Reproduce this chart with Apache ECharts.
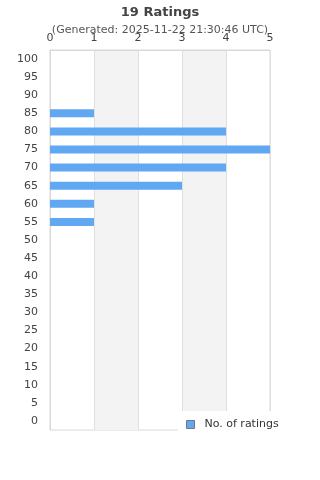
<!DOCTYPE html>
<html>
<head>
<meta charset="utf-8">
<script src="https://cdn.jsdelivr.net/npm/echarts@6/dist/echarts.min.js"></script>
<style>
  html, body { margin: 0; padding: 0; background: #fff; }
  #chart { width: 320px; height: 480px; }
</style>
</head>
<body>
<div id="chart"></div>
<script>
// rating buckets, bottom to top
const categories = ['0', '5', '10', '15', '20', '25', '30', '35', '40', '45', '50',
  '55', '60', '65', '70', '75', '80', '85', '90', '95', '100'];
const counts = [0, 0, 0, 0, 0, 0, 0, 0, 0, 0, 0, 1, 1, 3, 4, 5, 4, 1, 0, 0, 0];
const xTicks = [0, 1, 2, 3, 4, 5];

const myChart = echarts.init(document.getElementById('chart'));
const option = {
  animation: false,
  title: {
    text: '19 Ratings',
    subtext: '(Generated: 2025-11-22 21:30:46 UTC)',
    left: 'center',
    top: 1,
    itemGap: 6,
    textStyle: { fontFamily: 'DejaVu Sans', fontSize: 13, fontWeight: 'bold', color: '#444' },
    subtextStyle: { fontFamily: 'DejaVu Sans', fontSize: 11, color: '#555' },
  },
  grid: {
    left: 50,
    top: 50,
    width: 220,
    height: 380,
    show: true,
    borderColor: '#d9d9d9',
    borderWidth: 1,
    containLabel: false,
  },
  legend: {
    data: ['No. of ratings'],
    left: 178,
    top: 411,
    padding: [8, 8, 8, 8],
    backgroundColor: '#fff',
    itemWidth: 8,
    itemHeight: 8,
    icon: 'rect',
    itemStyle: { borderColor: '#777', borderWidth: 1 },
    textStyle: { fontFamily: 'DejaVu Sans', fontSize: 11, color: '#333', padding: [0, 0, 0, 5] },
  },
  xAxis: {
    type: 'value',
    position: 'top',
    min: xTicks[0],
    max: xTicks[xTicks.length - 1],
    interval: 1,
    axisLine: { show: true, lineStyle: { color: '#d9d9d9' } },
    axisTick: { show: false },
    axisLabel: { margin: 6, fontFamily: 'DejaVu Sans', fontSize: 11, color: '#444' },
    splitLine: { show: true, lineStyle: { color: '#e0e0e0' } },
    splitArea: { show: true, areaStyle: { color: ['rgba(255,255,255,0)', '#f3f3f3'] } },
  },
  yAxis: {
    type: 'category',
    data: categories,
    axisLine: { show: true, lineStyle: { color: '#d9d9d9' } },
    axisTick: { show: false },
    axisLabel: { margin: 12, fontFamily: 'DejaVu Sans', fontSize: 11, color: '#444' },
    splitLine: { show: false },
  },
  series: [{
    name: 'No. of ratings',
    type: 'bar',
    data: counts,
    barWidth: 8,
    itemStyle: { color: '#60a8f2' },
  }],
};
myChart.setOption(option);
</script>
</body>
</html>
